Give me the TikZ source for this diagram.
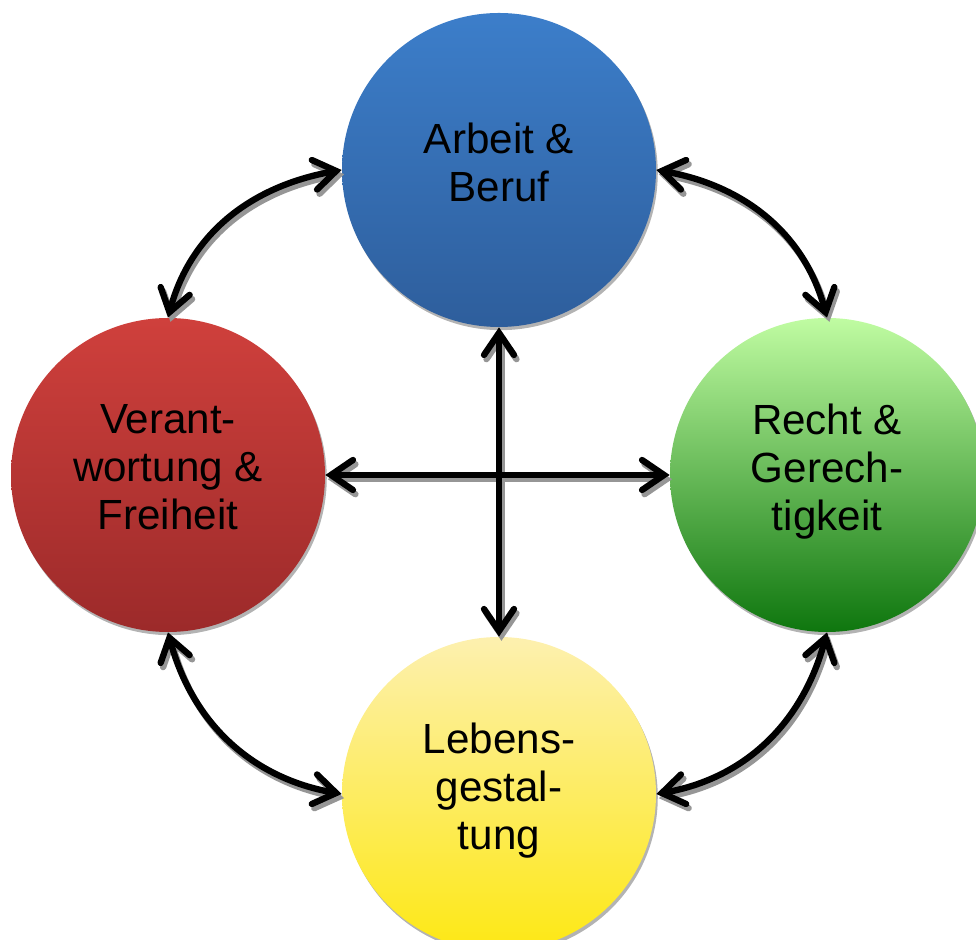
\documentclass[tikz,border=0pt]{standalone}
\usepackage{fontspec}
\setmainfont{Liberation Sans}
\usepackage{tikz}
\usetikzlibrary{calc}
\usetikzlibrary{shadows}
\usetikzlibrary {arrows.meta}
\usepackage{xcolor}
\definecolor{blueT}{RGB}{60,126,202}
\definecolor{blueB}{RGB}{46,94,156}
\definecolor{redT}{RGB}{207,64,60}
\definecolor{redB}{RGB}{156,42,42}
\definecolor{greenT}{RGB}{192,252,162}
\definecolor{greenB}{RGB}{14,118,14}
\definecolor{yelT}{RGB}{253,240,175}
\definecolor{yelB}{RGB}{253,232,20}
\definecolor{shad}{RGB}{150,150,150}

\begin{document}
\begin{tikzpicture}[
	kr/.style = {circle, minimum size=6.28cm, inner sep=0pt, align=center, text depth=0.32cm,
		font=\fontsize{24}{27.4}\selectfont,
		drop shadow={shadow xshift=1pt, shadow yshift=-1.8pt, opacity=0.6}},
	bl/.style = {kr, top color=blueT,	bottom color=blueB},
	rd/.style = {kr, top color=redT,	bottom color=redB},
	gr/.style = {kr, top color=greenT,	bottom color=greenB},
	ye/.style = {kr, top color=yelT,	bottom color=yelB},
	pf/.style = {{Straight Barb[length=4.4mm, width=6mm, line cap=round]}-{Straight Barb[length=4.4mm, width=6mm, line cap=round]},
		line width=3.6pt}
	]
	\useasboundingbox (0, 0) rectangle (19.52, 18.8);
	
	% === === Nodes === ===
	\node[bl]	(arb)	at	(9.98, 15.4)	{Arbeit \&\\Beruf};
	\node[rd]	(ver)	at	(3.36, 9.3)	{Verant-\\wortung \&\\Freiheit};
	\node[gr]	(rec)	at	(16.54, 9.3)	{Recht \&\\Gerech-\\tigkeit};
	\node[ye]	(leb)	at	(9.98, 2.92)	{Lebens-\\gestal-\\tung};
	
	% === === Lines === ===
	% grey copy first (shadow), then the black arrows
	\foreach \col/\dx/\dy in {shad/1.4pt/-2.4pt, black/0pt/0pt}{
	\begin{scope}[transform canvas={xshift=\dx, yshift=\dy}, color=\col]
		\draw[pf]	(ver.north)	to[out=75, in=190]	(arb.west);
		\draw[pf]	(arb.east)	to[out=-10, in=105]	(rec.north);
		\draw[pf]	(ver.south)	to[out=-75, in=170]	(leb.west);
		\draw[pf]	(rec.south)	to[out=-105, in=10]	(leb.east);
		\draw[pf]	(ver.east)	to	(rec.west);
		\draw[pf]	(arb.south)	to	(leb.north);
	\end{scope}
	}
	
\end{tikzpicture}
\end{document}
